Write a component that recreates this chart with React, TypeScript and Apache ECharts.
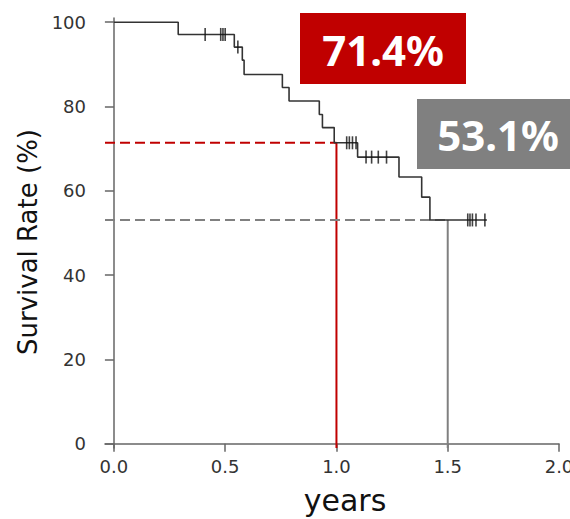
import React, { useEffect, useRef } from "react";
import * as echarts from "echarts";

// Kaplan-Meier estimate
const eventTimes = [0.289, 0.541, 0.577, 0.585, 0.757, 0.787, 0.923, 0.937, 0.99, 1.095, 1.281, 1.383, 1.42];
const survivalAfter = [97.1, 94.1, 91.0, 87.6, 84.5, 81.3, 78.1, 75.0, 71.4, 68.0, 63.3, 58.5, 53.1];
const lastFollowUp = 1.676;
const censorTimes = [0.41, 0.48, 0.49, 0.5, 0.557, 1.046, 1.058, 1.072, 1.088, 1.133, 1.158, 1.188, 1.225, 1.59, 1.6, 1.611, 1.627, 1.667];

// Highlighted landmarks
const landmarkYears = [1.0, 1.5];
const landmarkRates = [71.4, 53.1];
const landmarkLabels = ["71.4%", "53.1%"];

const xTicks = [0, 0.5, 1.0, 1.5, 2.0];
const yTicks = [0, 20, 40, 60, 80, 100];

const X_MIN = -0.04;
const X_MAX = 2.0;
const Y_MIN = -1;
const Y_MAX = 101;

function survivalAt(t: number): number {
  let s = 100;
  for (let i = 0; i < eventTimes.length; i++) {
    if (eventTimes[i] <= t) s = survivalAfter[i];
  }
  return s;
}

function buildStepPoints(): number[][] {
  const pts: number[][] = [[0, 100]];
  let prev = 100;
  for (let i = 0; i < eventTimes.length; i++) {
    pts.push([eventTimes[i], prev]);
    pts.push([eventTimes[i], survivalAfter[i]]);
    prev = survivalAfter[i];
  }
  pts.push([lastFollowUp, prev]);
  return pts;
}

export default function App() {
  const ref = useRef<HTMLDivElement>(null);
  useEffect(() => {
    if (!ref.current) return;
    const chart = echarts.init(ref.current, null, { renderer: "svg" });
    const axisColor = "#666";
    const labelFont = "DejaVu Sans";
    const colors = ["#c00000", "#808080"];

    const landmarkSeries: any[] = [];
    landmarkYears.forEach((yr, i) => {
      landmarkSeries.push({
        type: "line",
        data: [[X_MIN, landmarkRates[i]], [yr, landmarkRates[i]]],
        symbol: "none",
        lineStyle: { color: colors[i], width: 2, type: [10, 5] },
        silent: true,
        z: 1,
      });
      landmarkSeries.push({
        type: "line",
        data: [[yr, landmarkRates[i]], [yr, Y_MIN]],
        symbol: "none",
        lineStyle: { color: colors[i], width: 2 },
        silent: true,
        z: 1,
      });
    });

    chart.setOption({
      animation: false,
      grid: { left: 105, right: 11, top: 18, bottom: 71, containLabel: false, outerBoundsMode: "none" },
      xAxis: {
        type: "value",
        min: X_MIN,
        max: X_MAX,
        name: "years",
        nameLocation: "middle",
        nameGap: 37,
        nameTextStyle: { fontFamily: labelFont, fontSize: 30, color: "#111", padding: [0, 0, 0, 26] },
        axisLine: { show: true, lineStyle: { color: axisColor, width: 1.5 } },
        axisTick: { show: true, length: 8, customValues: xTicks, lineStyle: { color: axisColor, width: 1.5 } },
        axisLabel: {
          customValues: xTicks,
          formatter: (v: number) => v.toFixed(1),
          fontFamily: labelFont,
          fontSize: 18,
          color: "#333",
          margin: 9,
        },
        splitLine: { show: false },
      },
      yAxis: {
        type: "value",
        min: Y_MIN,
        max: Y_MAX,
        name: "Survival Rate (%)",
        nameLocation: "middle",
        nameGap: 57,
        nameTextStyle: { fontFamily: labelFont, fontSize: 26, color: "#111", padding: [0, 18, 0, 0] },
        axisLine: { show: true, lineStyle: { color: axisColor, width: 1.5 } },
        axisTick: { show: true, length: 9, customValues: yTicks, lineStyle: { color: axisColor, width: 1.5 } },
        axisLabel: {
          customValues: yTicks,
          fontFamily: labelFont,
          fontSize: 18,
          color: "#333",
          margin: 19,
        },
        splitLine: { show: false },
      },
      series: [
        ...landmarkSeries,
        {
          type: "line",
          data: buildStepPoints(),
          symbol: "none",
          lineStyle: { color: "#333", width: 1.6 },
          silent: true,
          z: 3,
        },
        {
          type: "scatter",
          data: censorTimes.map((t) => [t, survivalAt(t)]),
          symbol: "rect",
          symbolSize: [1.6, 13],
          itemStyle: { color: "#111" },
          silent: true,
          z: 4,
        },
      ],
      graphic: [
        {
          type: "rect",
          shape: { x: 300, y: 13, width: 166, height: 71 },
          style: { fill: colors[0] },
          z: 10,
        },
        {
          type: "text",
          x: 383,
          y: 49,
          style: {
            text: landmarkLabels[0],
            fill: "#fff",
            font: "bold 42px 'Noto Sans'",
            align: "center",
            verticalAlign: "middle",
          },
          z: 11,
        },
        {
          type: "rect",
          shape: { x: 417, y: 99, width: 160, height: 70 },
          style: { fill: colors[1] },
          z: 10,
        },
        {
          type: "text",
          x: 498,
          y: 134,
          style: {
            text: landmarkLabels[1],
            fill: "#fff",
            font: "bold 42px 'Noto Sans'",
            align: "center",
            verticalAlign: "middle",
          },
          z: 11,
        },
      ],
    });
    return () => chart.dispose();
  }, []);
  return <div ref={ref} style={{ width: 570, height: 519, position: "absolute", left: 0, top: 0 }} />;
}
